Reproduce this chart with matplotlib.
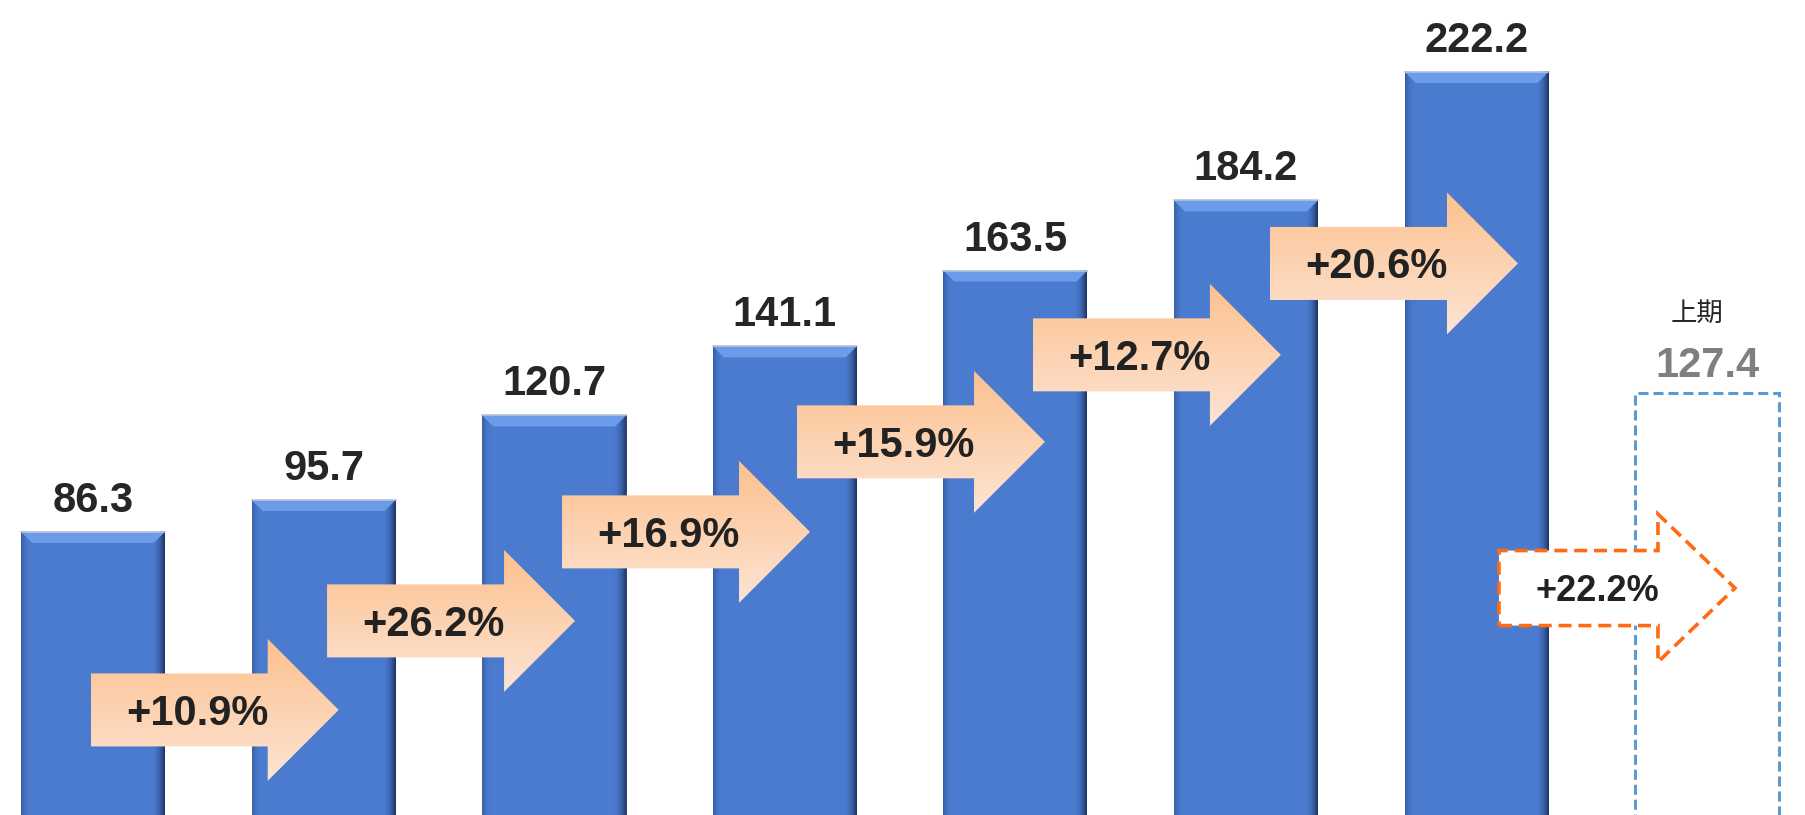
import numpy as np
import matplotlib
matplotlib.use("Agg")
import matplotlib.pyplot as plt
from matplotlib.patches import Polygon, Rectangle
from matplotlib.colors import LinearSegmentedColormap

# data
values = [86.3, 95.7, 120.7, 141.1, 163.5, 184.2, 222.2]
growth = ["+10.9%", "+26.2%", "+16.9%", "+15.9%", "+12.7%", "+20.6%"]
prev_label = "上期"
prev_value = 127.4
prev_growth = "+22.2%"

# arrow layout (data units)
arrow_x0 = [-0.01, 1.015, 2.034, 3.053, 4.076, 5.104]
arrow_y = [33.7, 60.0, 86.3, 112.9, 138.6, 165.6]

plt.rcParams['font.family'] = ['Liberation Sans', 'Noto Sans CJK JP', 'DejaVu Sans']

PX_X = 1 / 230.6   # data units per pixel, x
PX_Y = 1 / 3.385   # data units per pixel, y
BAR_W = 0.624

fig = plt.figure(figsize=(18.06, 8.15), dpi=100)
ax = fig.add_axes([0, 0, 1, 1])
ax.axis('off')

x = np.arange(len(values))
bars = ax.bar(x, values, width=BAR_W, color='#4a7bcf', zorder=2)

# bevel look on the bars
left_cmap = LinearSegmentedColormap.from_list(
    'l', [(0.16, 0.27, 0.50, 0.55), (0.29, 0.48, 0.81, 0.0)])
right_cmap = LinearSegmentedColormap.from_list(
    'r', [(0.29, 0.48, 0.81, 0.0), (0.09, 0.16, 0.32, 0.9)])
hgrad = np.linspace(0, 1, 64).reshape(1, -1)
for p in bars.patches:
    x0, w, h = p.get_x(), p.get_width(), p.get_height()
    ax.imshow(hgrad, extent=(x0, x0 + 9 * PX_X, 0, h), cmap=left_cmap,
              aspect='auto', zorder=3, interpolation='bilinear')
    ax.imshow(hgrad, extent=(x0 + w - 13 * PX_X, x0 + w, 0, h), cmap=right_cmap,
              aspect='auto', zorder=3, interpolation='bilinear')
    top = Polygon([(x0, h), (x0 + w, h), (x0 + w - 11 * PX_X, h - 11 * PX_Y),
                   (x0 + 11 * PX_X, h - 11 * PX_Y)], closed=True,
                  facecolor='#6c9be9', edgecolor='none', zorder=4)
    ax.add_patch(top)
    ax.plot([x0, x0 + w], [h, h], color='#b8c4d8', lw=1.2, zorder=4)


def arrow_pts(x0, yc, body_len, head_len, body_h, head_h):
    xh = x0 + body_len
    xt = xh + head_len
    return [(x0, yc - body_h), (xh, yc - body_h), (xh, yc - head_h), (xt, yc),
            (xh, yc + head_h), (xh, yc + body_h), (x0, yc + body_h)]


peach = LinearSegmentedColormap.from_list('peach', ['#fde4d4', '#fcc18f'])
vgrad = np.linspace(0, 1, 128).reshape(-1, 1)

body_len, head_len = 177 * PX_X, 71 * PX_X
body_h, head_h = 36.5 * PX_Y, 71 * PX_Y
for g, x0, yc in zip(growth, arrow_x0, arrow_y):
    pts = arrow_pts(x0, yc, body_len, head_len, body_h, head_h)
    poly = Polygon(pts, closed=True, facecolor='none', edgecolor='none', zorder=5)
    ax.add_patch(poly)
    im = ax.imshow(vgrad, extent=(x0, x0 + body_len + head_len, yc - head_h, yc + head_h),
                   cmap=peach, origin='lower', aspect='auto', zorder=5,
                   interpolation='bilinear')
    im.set_clip_path(poly)
    ax.annotate(g, (x0 + (body_len / 2 + 18 * PX_X), yc), xytext=(0, -10.7),
                textcoords='offset points', ha='center', va='baseline',
                fontsize=30, fontweight='bold', color='#222222', zorder=6)

# value labels
for i, v in enumerate(values):
    ax.annotate(f"{v}", (i, v), xytext=(0, 14.4), textcoords='offset points',
                ha='center', va='baseline', fontsize=30, fontweight='bold',
                color='#262626', zorder=6)

# previous half: dashed box
px = len(values)
ax.add_patch(Rectangle((px - BAR_W / 2, 0), BAR_W, prev_value, fill=False,
                       edgecolor='#5b9bd5', lw=2.2, linestyle=(0, (3.3, 1.6)), zorder=3))
ax.annotate(f"{prev_value}", (px, prev_value), xytext=(0, 11.5),
            textcoords='offset points', ha='center', va='baseline',
            fontsize=30, fontweight='bold', color='#7f7f7f', zorder=6)
ax.annotate(prev_label, (px, prev_value), xytext=(-7, 52),
            textcoords='offset points', ha='center', va='baseline',
            fontsize=19, color='#262626', zorder=6,
            family=['Noto Sans CJK JP', 'DejaVu Sans'])

# dashed arrow vs previous half
dx0, dyc = 6.097, 69.7
d_body, d_head = 159 * PX_X, 77 * PX_X
pts = arrow_pts(dx0, dyc, d_body, d_head, 37.5 * PX_Y, 74 * PX_Y)
ax.add_patch(Polygon(pts, closed=True, facecolor='white', edgecolor='#ff6a13',
                     lw=2.6, linestyle=(0, (3.6, 1.9)), joinstyle='miter', zorder=7))
ax.annotate(prev_growth, (dx0 + d_body / 2 + 19 * PX_X, dyc), xytext=(0, -9.3),
            textcoords='offset points', ha='center', va='baseline',
            fontsize=26, fontweight='bold', color='#222222', zorder=8)

ax.set_xlim(-93 * PX_X, (1806 - 93) * PX_X)
ax.set_ylim(9 * PX_Y, 824 * PX_Y)

fig.savefig('out.png', dpi=100)
